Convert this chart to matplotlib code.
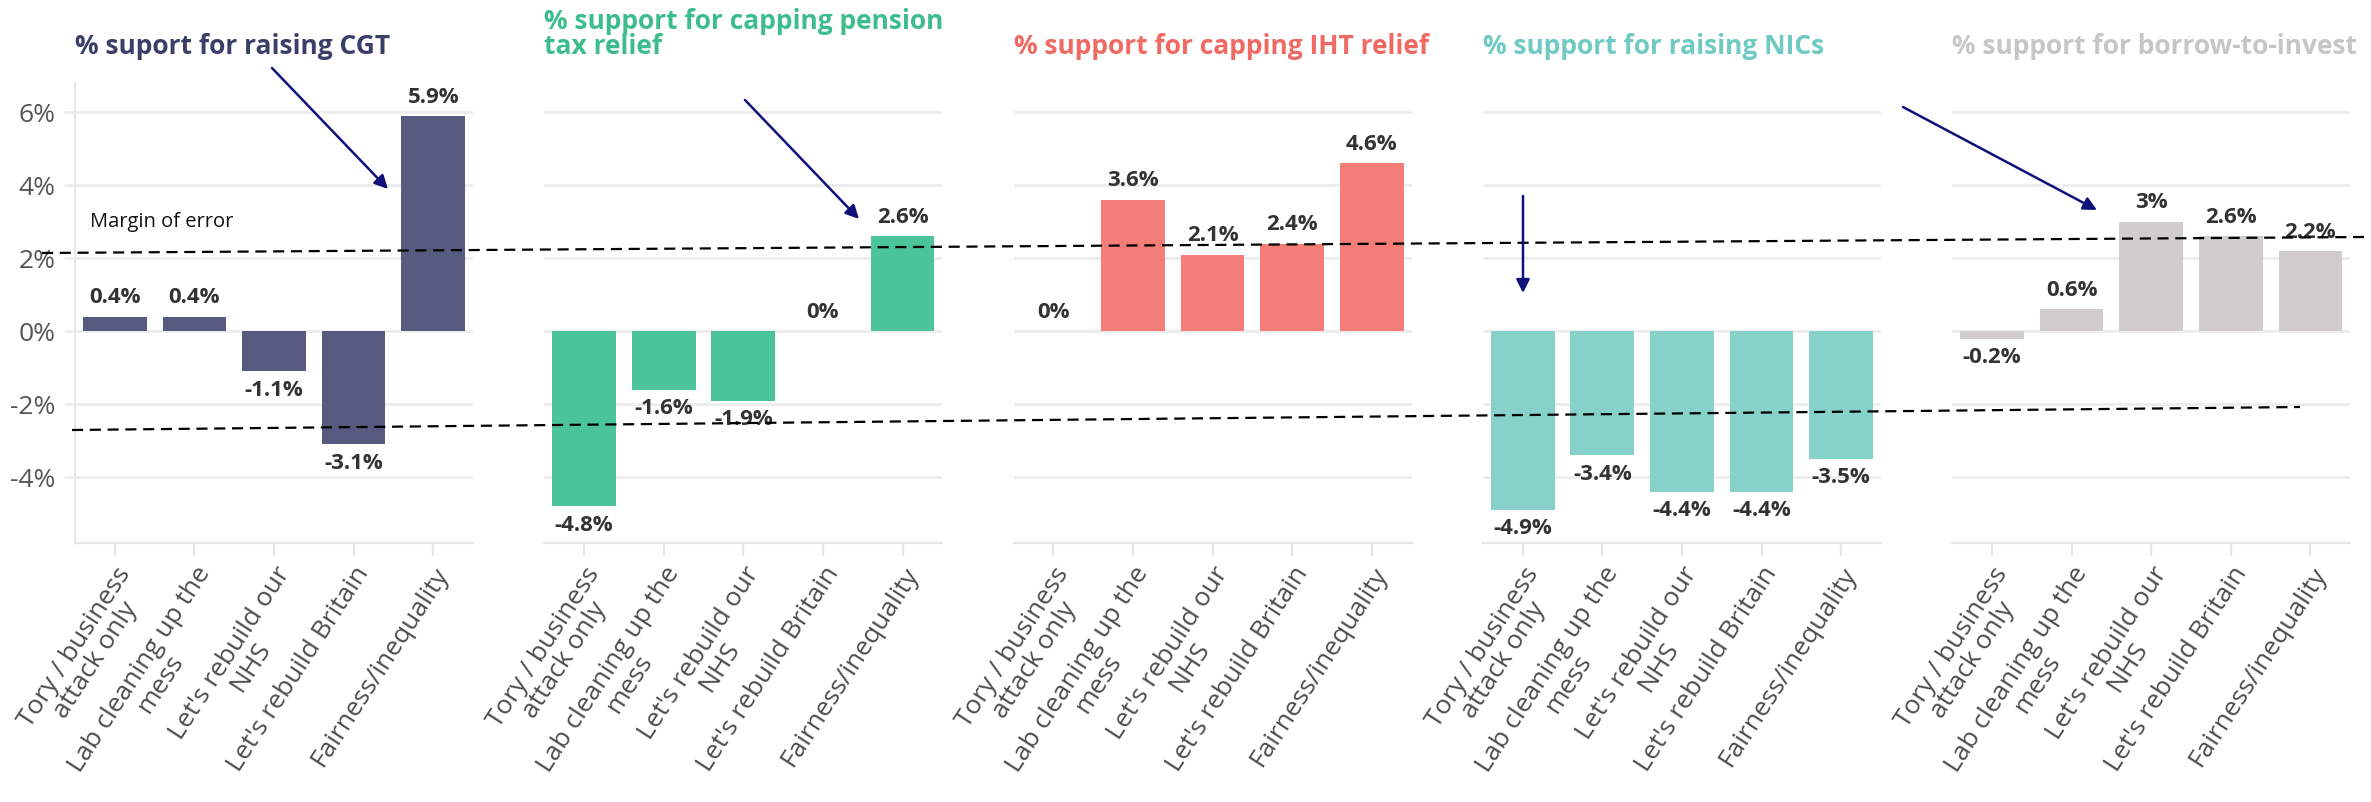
import matplotlib
matplotlib.use("Agg")
import matplotlib.pyplot as plt
from matplotlib.patches import FancyArrowPatch
from matplotlib.lines import Line2D

# ---------------- data ----------------
categories = ["Tory / business\nattack only", "Lab cleaning up the\nmess",
              "Let's rebuild our\nNHS", "Let's rebuild Britain", "Fairness/inequality"]
titles = ["% suport for raising CGT",
          "% support for capping pension\ntax relief",
          "% support for capping IHT relief",
          "% support for raising NICs",
          "% support for borrow-to-invest"]
cgt = [0.4, 0.4, -1.1, -3.1, 5.9]
pension = [-4.8, -1.6, -1.9, 0, 2.6]
iht = [0, 3.6, 2.1, 2.4, 4.6]
nics = [-4.9, -3.4, -4.4, -4.4, -3.5]
borrow = [-0.2, 0.6, 3, 2.6, 2.2]
yticks = [-4, -2, 0, 2, 4, 6]
ytick_labels = ["-4%", "-2%", "0%", "2%", "4%", "6%"]
margin_label = "Margin of error"

series = [cgt, pension, iht, nics, borrow]
bar_colors = ["#565a7f", "#4cc49a", "#f47e77", "#86d2cb", "#d0cdcc"]
title_colors = ["#3b3e68", "#3ebd8c", "#f06a64", "#6ecac2", "#c6c6c6"]

plt.rcParams['font.family'] = ['Open Sans', 'DejaVu Sans']

W, H = 2371, 802
fig = plt.figure(figsize=(W / 100, H / 100), dpi=100)

def fx(px):
    return px / W

def fy(py):
    return 1 - py / H

ax_left0 = 75
ax_step = 469.3
ax_w = 398
ax_top = 83
ax_bot = 543

grid_c = "#ececec"
for i, vals in enumerate(series):
    left = ax_left0 + i * ax_step
    ax = fig.add_axes([fx(left), fy(ax_bot), ax_w / W, (ax_bot - ax_top) / H])
    x = list(range(len(categories)))
    bars = ax.bar(x, vals, width=0.8, color=bar_colors[i], zorder=2)
    ax.set_xlim(-0.5, 4.5)
    ax.set_ylim(-5.8, 6.8)
    ax.set_yticks(yticks)
    ax.yaxis.grid(True, color=grid_c, lw=2.0, zorder=0)
    ax.set_axisbelow(True)
    for s in ["top", "right"]:
        ax.spines[s].set_visible(False)
    ax.spines["bottom"].set_color("#e6e6e6")
    ax.spines["bottom"].set_linewidth(1.6)
    ax.set_xticks(x)
    ax.set_xticklabels(categories, rotation=57, ha="right", va="top",
                       rotation_mode="anchor", multialignment="center",
                       fontsize=19, color="#4d4d4d", linespacing=1.0)
    ax.tick_params(axis="x", length=9, width=1.6, color="#e6e6e6", pad=5)
    if i == 0:
        ax.spines["left"].set_color("#e8e8e8")
        ax.spines["left"].set_linewidth(1.6)
        ax.set_yticklabels(ytick_labels, fontsize=19, color="#555555")
        ax.tick_params(axis="y", length=8, width=2.0, color=grid_c, pad=6)
    else:
        ax.spines["left"].set_visible(False)
        ax.tick_params(axis="y", length=0, labelleft=False)
    for b, v in zip(bars, vals):
        off = 6 if v >= 0 else -6
        ax.annotate(f"{v:g}%", (b.get_x() + b.get_width() / 2, v),
                    xytext=(0, off), textcoords="offset points",
                    ha="center", va="bottom" if v >= 0 else "top",
                    fontsize=16, fontweight="bold", color="#333333", zorder=5)
    fig.text(fx(left), fy(60), titles[i], ha="left", va="bottom",
             fontsize=19, fontweight="bold", color=title_colors[i],
             linespacing=0.9)

# margin of error annotation
fig.text(fx(90), fy(222), margin_label, ha="left", va="center",
         fontsize=14.5, color="#111111")
for (x0, y0), (x1, y1) in [((42, 253), (2364, 237)), ((72, 430), (2300, 407))]:
    fig.add_artist(Line2D([fx(x0), fx(x1)], [fy(y0), fy(y1)],
                          transform=fig.transFigure, color="black", lw=1.6,
                          linestyle=(0, (5, 3)), zorder=10))

# arrows
arrow_c = "#10107a"
for (x0, y0), (x1, y1) in [((272, 68), (388, 189)), ((745, 100), (859, 219)),
                           ((1523, 196), (1523, 293)), ((1903, 107), (2097, 210))]:
    fig.add_artist(FancyArrowPatch((fx(x0), fy(y0)), (fx(x1), fy(y1)),
                                   transform=fig.transFigure, arrowstyle="-|>",
                                   mutation_scale=20, lw=1.8, color=arrow_c,
                                   shrinkA=0, shrinkB=0, zorder=11))

fig.savefig("out.png", dpi=100, facecolor="white")
